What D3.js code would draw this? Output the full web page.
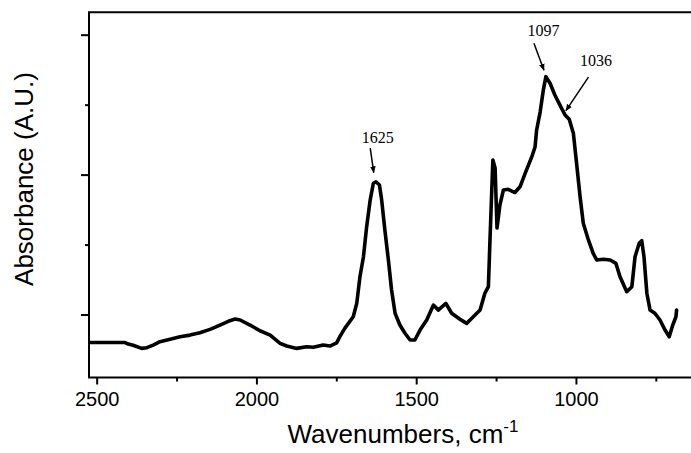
<!DOCTYPE html>
<html>
<head>
<meta charset="utf-8">
<script src="https://cdn.jsdelivr.net/npm/d3@7"></script>
<style>
  html, body { margin: 0; padding: 0; background: #fff; }
  svg { display: block; }
</style>
</head>
<body>
<svg id="chart" width="691" height="453"></svg>
<script>
// ---- data ----
const wavenumber = [2524, 2411, 2401, 2386, 2359, 2343, 2323, 2302, 2270, 2239, 2208, 2177, 2145, 2114, 2083, 2067, 2051, 2020, 1989, 1957, 1926, 1905, 1874, 1843, 1822, 1791, 1770, 1749, 1738, 1723, 1697, 1686, 1676, 1665, 1655, 1644, 1634, 1626, 1615, 1608, 1598, 1587, 1577, 1566, 1551, 1535, 1519, 1504, 1488, 1467, 1446, 1431, 1407, 1389, 1363, 1342, 1326, 1300, 1285, 1274, 1269, 1260, 1253, 1247, 1238, 1227, 1212, 1191, 1175, 1159, 1138, 1128, 1123, 1112, 1102, 1094, 1081, 1066, 1050, 1034, 1021, 1008, 998, 987, 977, 961, 946, 935, 914, 893, 875, 862, 841, 825, 815, 802, 794, 787, 778, 768, 753, 737, 721, 708, 697, 687, 685];
const absorbance = [-0.20, -0.20, -0.211, -0.220, -0.242, -0.237, -0.218, -0.194, -0.177, -0.159, -0.147, -0.130, -0.106, -0.075, -0.044, -0.032, -0.039, -0.075, -0.116, -0.147, -0.206, -0.225, -0.242, -0.230, -0.234, -0.218, -0.225, -0.202, -0.154, -0.097, -0.016, 0.080, 0.270, 0.413, 0.628, 0.818, 0.938, 0.949, 0.926, 0.818, 0.604, 0.390, 0.175, 0.009, -0.075, -0.134, -0.182, -0.182, -0.111, -0.039, 0.068, 0.032, 0.080, 0.009, -0.034, -0.063, -0.027, 0.032, 0.152, 0.199, 0.533, 1.104, 1.047, 0.618, 0.783, 0.890, 0.895, 0.872, 0.913, 1.009, 1.128, 1.197, 1.319, 1.447, 1.605, 1.700, 1.653, 1.569, 1.497, 1.426, 1.395, 1.295, 1.081, 0.842, 0.652, 0.533, 0.437, 0.390, 0.395, 0.390, 0.366, 0.270, 0.163, 0.199, 0.413, 0.509, 0.528, 0.413, 0.152, 0.032, 0.009, -0.039, -0.111, -0.159, -0.075, -0.016, 0.032];

const xMajorTicks = [2500, 2000, 1500, 1000];
const xMinorTicks = [2250, 1750, 1250, 750];
const yMajorTicks = [0, 1, 2];
const yMinorTicks = [0.5, 1.5];

const annotLabels = ["1625", "1097", "1036"];
const annotWn     = [1625, 1097, 1036];
const annotAbs    = [0.95, 1.70, 1.40];

const xTitle = "Wavenumbers, cm";
const xTitleSup = "-1";
const yTitle = "Absorbance (A.U.)";

// ---- layout ----
const L = 89, T = 12.3, R = 690, B = 377.5;
const svg = d3.select("#chart");

const x = d3.scaleLinear().domain([2524, 643]).range([L, R]);
const y = d3.scaleLinear().domain([-0.45, 2.16]).range([B, T]);

const sansFont = "'Liberation Sans', Arial, sans-serif";
const serifFont = "'Liberation Serif', 'Times New Roman', serif";

const defs = svg.append("defs");
defs.append("clipPath").attr("id", "clip")
  .append("rect").attr("x", L).attr("y", T).attr("width", 691 - L).attr("height", B - T);

defs.append("marker")
  .attr("id", "arrow").attr("viewBox", "0 0 10 10")
  .attr("refX", 9).attr("refY", 5)
  .attr("markerWidth", 7).attr("markerHeight", 7)
  .attr("markerUnits", "userSpaceOnUse")
  .attr("orient", "auto")
  .append("path").attr("d", "M0,1 L10,5 L0,9 Z").attr("fill", "#000");

// data line
const pts = wavenumber.map((w, i) => [w, absorbance[i]]);
const line = d3.line().x(d => x(d[0])).y(d => y(d[1]));
svg.append("path")
  .datum(pts)
  .attr("clip-path", "url(#clip)")
  .attr("d", line)
  .attr("fill", "none")
  .attr("stroke", "#000")
  .attr("stroke-width", 3.6)
  .attr("stroke-linejoin", "round")
  .attr("stroke-linecap", "round");

// x axis
const gx = svg.append("g").attr("transform", `translate(0,${B})`);
gx.call(d3.axisBottom(x).tickValues(xMajorTicks).tickSize(7).tickPadding(7).tickFormat(d3.format("d")));
gx.select(".domain").remove();
gx.selectAll(".tick line").attr("stroke", "#000").attr("stroke-width", 2);
gx.selectAll(".tick text").attr("font-family", sansFont).attr("font-size", 20).attr("fill", "#000");
const gxm = svg.append("g").attr("transform", `translate(0,${B})`);
gxm.call(d3.axisBottom(x).tickValues(xMinorTicks).tickSize(4).tickFormat(""));
gxm.select(".domain").remove();
gxm.selectAll(".tick line").attr("stroke", "#000").attr("stroke-width", 2);

// y axis
const gy = svg.append("g").attr("transform", `translate(${L},0)`);
gy.call(d3.axisLeft(y).tickValues(yMajorTicks).tickSize(8).tickFormat(""));
gy.select(".domain").remove();
gy.selectAll(".tick line").attr("stroke", "#000").attr("stroke-width", 2);
const gym = svg.append("g").attr("transform", `translate(${L},0)`);
gym.call(d3.axisLeft(y).tickValues(yMinorTicks).tickSize(4).tickFormat(""));
gym.select(".domain").remove();
gym.selectAll(".tick line").attr("stroke", "#000").attr("stroke-width", 2);

// frame (right side falls outside the picture)
svg.append("path")
  .attr("d", `M${R + 10},${T} H${L} V${B} H${R + 10}`)
  .attr("fill", "none").attr("stroke", "#000").attr("stroke-width", 2);

// titles
const xt = svg.append("text")
  .attr("x", 403).attr("y", 443)
  .attr("text-anchor", "middle")
  .attr("font-family", sansFont).attr("font-size", 26).attr("fill", "#000");
xt.append("tspan").text(xTitle);
xt.append("tspan").attr("dy", -11).attr("font-size", 17).text(xTitleSup);

svg.append("text")
  .attr("transform", `translate(33,179) rotate(-90)`)
  .attr("text-anchor", "middle")
  .attr("font-family", sansFont).attr("font-size", 26).attr("fill", "#000")
  .text(yTitle);

// annotations: text offset and arrow relative to the peak point
const annotLayout = [
  {tdx: 1.5, tdy: -38.7, ax1: -6, ay1: -33.5, ax2: -2.5, ay2: -9},
  {tdx: -1.5, tdy: -40.7, ax1: -11, ay1: -33.5, ax2: -1, ay2: -6.5},
  {tdx: 31.5, tdy: -52.7, ax1: 24, ay1: -41.5, ax2: 1.5, ay2: -8}
];
annotLabels.forEach((lab, i) => {
  const px = x(annotWn[i]), py = y(annotAbs[i]);
  const a = annotLayout[i];
  svg.append("text")
    .attr("x", px + a.tdx).attr("y", py + a.tdy)
    .attr("text-anchor", "middle")
    .attr("font-family", serifFont).attr("font-size", 16).attr("fill", "#000")
    .text(lab);
  svg.append("line")
    .attr("x1", px + a.ax1).attr("y1", py + a.ay1)
    .attr("x2", px + a.ax2).attr("y2", py + a.ay2)
    .attr("stroke", "#000").attr("stroke-width", 1.5)
    .attr("marker-end", "url(#arrow)");
});
</script>
</body>
</html>
